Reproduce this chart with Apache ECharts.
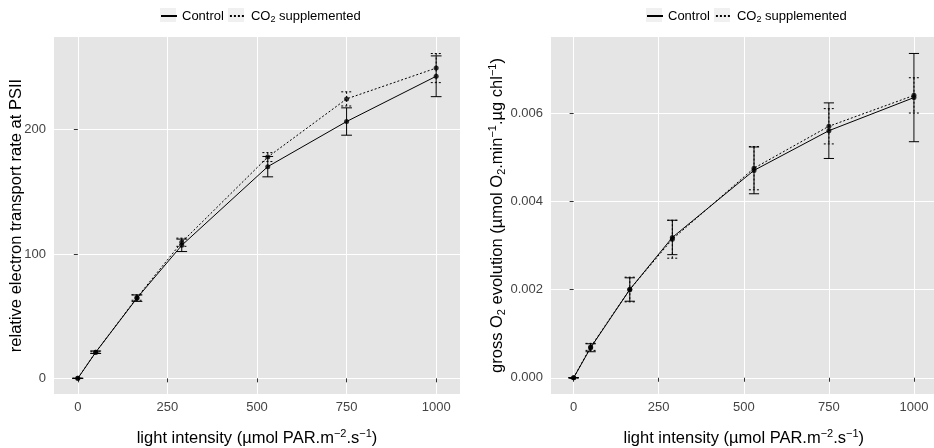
<!DOCTYPE html>
<html>
<head>
<meta charset="utf-8">
<script src="https://cdn.jsdelivr.net/npm/echarts@6/dist/echarts.min.js"></script>
<style>
  html, body { margin: 0; padding: 0; background: #fff; }
  #chart { width: 934px; height: 448px; }
</style>
</head>
<body>
<div id="chart"></div>
<script>
// Light levels (µmol PAR m-2 s-1)
const lightX = [0, 50, 165, 290, 530, 750, 1000];
const xTicks = [0, 250, 500, 750, 1000];

// Relative electron transport rate at PSII: mean and error half-width
const etrControl = [0, 21, 64.5, 107, 170.3, 206.6, 243];
const etrControlErr = [0, 1, 2.6, 5, 8.2, 11, 16.4];
const etrCO2 = [0, 21, 65, 109.5, 178, 224.8, 249.6];
const etrCO2Err = [0, 0.8, 2.2, 3.3, 3.6, 5.7, 11.7];
const etrTicks = [0, 100, 200];

// Gross O2 evolution: mean and error half-width
const o2Control = [0, 0.00068, 0.002, 0.00318, 0.0047, 0.0056, 0.00635];
const o2ControlErr = [0, 0.00009, 0.000265, 0.00039, 0.00053, 0.00063, 0.001];
const o2CO2 = [0, 0.0007, 0.002, 0.00314, 0.00475, 0.0057, 0.0064];
const o2CO2Err = [0, 0.00008, 0.00028, 0.00043, 0.00049, 0.0004, 0.0004];
const o2Ticks = [0, 0.002, 0.004, 0.006];

const FONT = 'Liberation Sans';
const CAP_WIDTH = 30; // error bar cap width, in light units
const DOTTED = [2, 2];

const pairs = (xs, ys) => xs.map((x, i) => [x, ys[i]]);
const bars = (xs, ys, es) => xs.map((x, i) => [x, ys[i] - es[i], ys[i] + es[i]]);

function errorBarRenderer(dash) {
  return function (params, api) {
    const x = api.value(0);
    const top = api.coord([x, api.value(2)]);
    const bot = api.coord([x, api.value(1)]);
    const half = api.size([CAP_WIDTH, 0])[0] / 2;
    const style = { stroke: '#000', lineWidth: 1, lineDash: dash, fill: null };
    return {
      type: 'group',
      children: [
        { type: 'line', shape: { x1: top[0], y1: top[1], x2: bot[0], y2: bot[1] }, style },
        { type: 'line', shape: { x1: top[0] - half, y1: top[1], x2: top[0] + half, y2: top[1] }, style },
        { type: 'line', shape: { x1: bot[0] - half, y1: bot[1], x2: bot[0] + half, y2: bot[1] }, style }
      ]
    };
  };
}

const richScript = {
  sup: { fontSize: 11, fontFamily: FONT, color: '#000', verticalAlign: 'top', lineHeight: 12 },
  sub: { fontSize: 11, fontFamily: FONT, color: '#000', verticalAlign: 'bottom', lineHeight: 12 }
};

function xAxisFor(gridIndex) {
  return {
    type: 'value', gridIndex,
    min: -66.5, max: 1066.5,
    name: 'light intensity (µmol PAR.m{sup|−2}.s{sup|−1})',
    nameLocation: 'middle', nameGap: 34, nameMoveOverlap: false,
    nameTextStyle: { fontSize: 16.5, fontFamily: FONT, color: '#000', lineHeight: 20, rich: richScript },
    axisLine: { show: false },
    axisTick: { show: true, length: 4, lineStyle: { color: '#333' }, customValues: xTicks },
    axisLabel: { fontSize: 13, fontFamily: FONT, color: '#444', margin: 7, customValues: xTicks,
      formatter: v => String(v) },
    splitLine: { show: true, lineStyle: { color: '#fff', width: 1 } }
  };
}

function yAxisFor(gridIndex, min, max, ticks, name, nameGap, fmt) {
  return {
    type: 'value', gridIndex, min, max,
    name, nameLocation: 'middle', nameGap, nameMoveOverlap: false,
    nameTextStyle: { fontSize: 16.5, fontFamily: FONT, color: '#000', lineHeight: 20, rich: richScript },
    axisLine: { show: false },
    axisTick: { show: true, length: 4, lineStyle: { color: '#333' }, customValues: ticks },
    axisLabel: { fontSize: 13, fontFamily: FONT, color: '#444', margin: 8, customValues: ticks, formatter: fmt },
    splitLine: { show: true, lineStyle: { color: '#fff', width: 1 } }
  };
}

function panelSeries(idx, ctl, ctlErr, co2, co2Err) {
  const axes = { xAxisIndex: idx, yAxisIndex: idx };
  return [
    Object.assign({ type: 'line', name: 'Control', data: pairs(lightX, ctl), symbol: 'none',
      lineStyle: { color: '#000', width: 1, type: 'solid' }, itemStyle: { color: '#000' }, z: 3 }, axes),
    Object.assign({ type: 'line', name: 'CO2 supplemented', data: pairs(lightX, co2), symbol: 'none',
      lineStyle: { color: '#000', width: 1, type: DOTTED }, itemStyle: { color: '#000' }, z: 3 }, axes),
    Object.assign({ type: 'custom', renderItem: errorBarRenderer(null),
      data: bars(lightX, ctl, ctlErr), encode: { x: 0, y: [1, 2] }, z: 4 }, axes),
    Object.assign({ type: 'custom', renderItem: errorBarRenderer(DOTTED),
      data: bars(lightX, co2, co2Err), encode: { x: 0, y: [1, 2] }, z: 4 }, axes),
    Object.assign({ type: 'scatter', data: pairs(lightX, ctl), symbolSize: 5,
      itemStyle: { color: '#000' }, z: 5 }, axes),
    Object.assign({ type: 'scatter', data: pairs(lightX, co2), symbolSize: 5,
      itemStyle: { color: '#000' }, z: 5 }, axes)
  ];
}

function legendAt(left) {
  return {
    left, top: 8, padding: 0,
    data: ['Control', 'CO2 supplemented'],
    itemWidth: 16, itemHeight: 14, itemGap: 5,
    itemStyle: { opacity: 0 },
    formatter: n => n === 'CO2 supplemented' ? 'CO{sub|2} supplemented' : n,
    textStyle: {
      fontSize: 13, fontFamily: FONT, color: '#000', lineHeight: 16,
      rich: { sub: { fontSize: 9, fontFamily: FONT, color: '#000', verticalAlign: 'bottom', lineHeight: 10 } }
    },
    selectedMode: false, z: 5
  };
}

// light grey key backgrounds behind the legend glyphs
function keyBoxes(left) {
  return [left, left + 68].map(x => ({
    type: 'rect', left: x, top: 8, z: 1,
    shape: { width: 16, height: 14 },
    style: { fill: '#f0f0f0' }
  }));
}

const chart = echarts.init(document.getElementById('chart'), null, { renderer: 'canvas' });
chart.setOption({
  animation: false,
  backgroundColor: '#fff',
  graphic: { elements: keyBoxes(160).concat(keyBoxes(646)) },
  legend: [legendAt(160), legendAt(646)],
  grid: [
    { left: 54, top: 37, width: 406, height: 357, outerBoundsMode: 'none',
      show: true, backgroundColor: '#e5e5e5', borderWidth: 0 },
    { left: 551, top: 37, width: 385.6, height: 357, outerBoundsMode: 'none',
      show: true, backgroundColor: '#e5e5e5', borderWidth: 0 }
  ],
  xAxis: [xAxisFor(0), xAxisFor(1)],
  yAxis: [
    yAxisFor(0, -12.6, 274.6, etrTicks, 'relative electron transport rate at PSII', 28, v => String(v)),
    yAxisFor(1, -0.000368, 0.007723, o2Ticks,
      'gross O{sub|2} evolution (µmol O{sub|2}.min{sup|−1}.µg chl{sup|−1})', 44, v => v.toFixed(3))
  ],
  series: [].concat(
    panelSeries(0, etrControl, etrControlErr, etrCO2, etrCO2Err),
    panelSeries(1, o2Control, o2ControlErr, o2CO2, o2CO2Err)
  )
});
</script>
</body>
</html>
